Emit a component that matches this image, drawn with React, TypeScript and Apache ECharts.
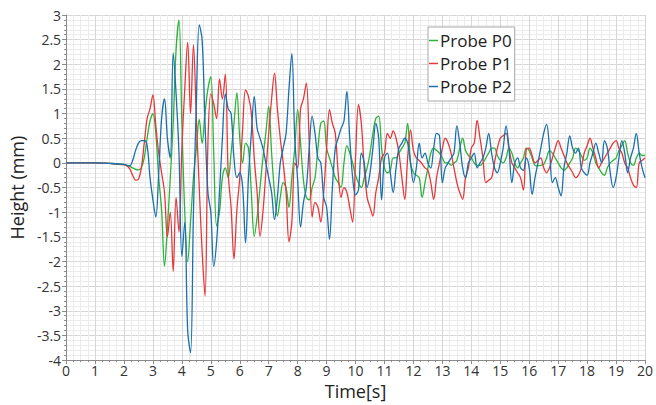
import React, { useEffect, useRef } from "react";
import * as echarts from "echarts";

// ---- data ----
const seriesNames = ["Probe P0", "Probe P1", "Probe P2"];
const seriesColors = ["#2eb23a", "#e5383b", "#1a6fae"];

const leadTimes = [0, 1, 1.5];
const leadP0 = [0, 0, -0.01];
const leadP1 = [0, 0, -0.01];
const leadP2 = [0, 0, -0.01];

const sampleStart = 2.0;
const sampleStep = 0.1;

const probeP0 = [
  -0.03, -0.05, -0.07, -0.1, -0.13, -0.14, -0.1, 0.1, 0.5, 0.85,
  1.0, 0.6, -0.3, -0.95, -2.1, -1.3, -0.3, 0.8, 2.3, 2.9,
  0.8, -1.0, -2.0, -1.2, -0.3, 0.3, 0.88, 0.4, 1.0, 1.5,
  1.75, 0.2, -1.28, -1.0, -0.3, -0.1, -0.3, 0.2, 0.8, 1.42,
  0.5, 0.0, 0.4, 0.3, -0.6, -1.49, -1.1, -0.5, 0.1, 0.6,
  1.15, 0.2, -0.6, -1.08, -0.7, -0.4, -0.5, -0.9, -0.3, 0.3,
  1.08, 0.4, -0.35, -0.7, -0.75, -0.5, -0.3, 0.3, 0.8, 0.85,
  0.3, 0.1, -0.1, -0.3, -0.4, -0.5, 0.0, 0.35, 0.2, 0.0,
  -0.25, -0.4, -0.5, -0.3, -0.1, 0.2, 0.6, 0.9, 0.95, 0.3,
  -0.1, -0.2, -0.15, 0.1, 0.1, 0.2, 0.3, 0.4, 0.8, 0.0,
  -0.2, -0.25, -0.3, -0.7, -0.4, -0.1, 0.2, 0.3, 0.25, 0.2,
  0.1, 0.0, 0.0, -0.05, 0.0, 0.05, 0.3, 0.5, 0.25, 0.15,
  0.1, 0.0, -0.05, -0.05, 0.0, 0.1, 0.2, 0.3, 0.3, 0.15,
  0.05, 0.0, 0.1, 0.3, 0.2, 0.0, -0.1, 0.0, 0.1, 0.3,
  0.25, 0.1, -0.05, -0.06, -0.05, -0.03, 0.1, 0.25, 0.2, 0.1,
  0.0, -0.1, -0.15, -0.1, 0.0, 0.1, 0.3, 0.25, 0.15, 0.05,
  0.1, 0.3, 0.2, 0.0, -0.1, -0.2, -0.25, -0.1, 0.0, 0.05,
  0.1, 0.25, 0.35, 0.45, 0.2, 0.0, -0.05, 0.1, 0.2, 0.15,
  0.15,
];

const probeP1 = [
  -0.04, -0.06, -0.12, -0.25, -0.35, -0.33, -0.1, 0.4, 0.9, 1.1,
  1.38, 0.75, 0.2, -0.2, -0.6, -1.5, -1.0, -2.2, -0.7, -1.4,
  0.3, 1.5, 2.45, 1.0, 2.4, 0.9, -0.5, -1.8, -2.7, 0.4,
  1.4, 1.2, 0.9, 1.7, 1.3, 1.8, -0.2, -0.9, -1.95, -0.95,
  -0.3, 0.7, 1.48, 1.35, 1.0, 0.1, -0.6, -1.49, -1.0, -0.2,
  0.6, 1.3, 1.82, 1.1, 0.5, 0.0, -0.6, -1.6, -1.2, 0.0,
  -0.1, 1.1, 1.3, 1.62, 0.4, -1.1, -0.8, -0.9, -1.2, -0.6,
  0.3, 1.08, 0.8, 0.6, -0.2, -0.7, -0.5, -0.6, -0.9, -1.2,
  0.1, 1.18, 0.8, -0.1, -0.7, -0.9, -1.08, -0.6, -0.3, 0.1,
  0.2, 0.6, 0.5, 0.65, 0.5, 0.2, -0.3, -0.74, 0.1, 0.67,
  0.25, 0.1, 0.05, -0.02, -0.1, -0.15, -0.4, -0.74, -0.3, 0.0,
  0.3, 0.5, 0.4, 0.2, -0.1, -0.4, -0.6, -0.74, -0.3, -0.1,
  0.3, 0.4, 0.86, 0.5, 0.1, -0.4, -0.35, -0.3, 0.0, 0.3,
  0.5, 0.55, 0.6, 0.3, 0.0, -0.1, -0.2, -0.3, -0.55, 0.28,
  0.3, 0.15, 0.0, 0.05, 0.1, -0.1, -0.2, -0.1, 0.1, 0.3,
  0.45, 0.3, 0.15, 0.0, -0.1, -0.2, -0.3, -0.25, -0.1, 0.2,
  0.35, 0.5, 0.3, 0.1, -0.1, 0.0, 0.1, 0.2, 0.3, 0.4,
  0.45, 0.3, 0.2, 0.0, -0.1, -0.3, -0.45, -0.5, 0.0, 0.05,
  0.1,
];

const probeP2 = [
  -0.03, -0.05, -0.06, 0.05, 0.25, 0.4, 0.45, 0.45, 0.35, -0.3,
  -0.75, -1.1, -0.2, 0.9, 1.3, 0.5, 0.1, 2.23, 1.4, 0.2,
  -1.9, -1.2, -3.4, -3.85, -1.0, 1.2, 2.8, 2.5, 0.8, -0.6,
  -1.0, -2.1, -1.6, -0.6, 0.5, 1.4, 1.1, 1.0, 0.1, -0.3,
  -0.2, -0.5, -1.62, -0.3, 0.6, 1.35, 0.7, 0.5, 0.3, 0.0,
  -0.3, -0.6, -1.15, -0.7, 0.0, 0.3, 0.6, 1.5, 2.22, 0.5,
  -0.35, -1.3, -0.8, -0.5, 0.3, 0.95, 0.6, 0.1, 0.0, -0.7,
  -0.9, -1.55, -0.5, 0.3, 0.5, 0.7, 0.85, 1.45, 0.5, -0.3,
  -0.65, -0.55, 0.2, 0.0, -0.5, -0.2, 0.3, 0.8, 0.5, -0.75,
  0.1, 0.2, -0.2, -0.6, -0.1, 0.3, 0.4, 0.5, 0.4, 0.0,
  -0.4, -0.1, 0.4, 0.1, 0.2, 0.0, -0.1, 0.3, 0.6, 0.55,
  -0.4, -0.1, 0.0, 0.1, 0.2, 0.75, 0.4, -0.1, -0.3, 0.0,
  0.1, 0.2, -0.1, 0.0, 0.1, 0.3, 0.6, 0.2, -0.1, -0.2,
  0.0, 0.3, 0.75, 0.3, -0.4, 0.0, 0.1, -0.1, -0.15, 0.1,
  -0.1, -0.64, -0.3, 0.0, 0.3, 0.6, 0.78, 0.3, -0.4, -0.3,
  -0.5, -0.67, -0.1, 0.2, 0.55, 0.3, 0.2, 0.3, -0.1, -0.2,
  -0.25, 0.0, 0.2, 0.4, 0.2, 0.0, 0.45, 0.3, -0.2, -0.5,
  -0.3, 0.1, 0.45, 0.2, -0.2, 0.1, 0.3, 0.6, 0.2, -0.1,
  -0.3,
];

const xTickMin = 0;
const xTickMax = 20;
const yTickMin = -4;
const yTickMax = 3;

function buildPairs(lead: number[], vals: number[]): [number, number][] {
  const out: [number, number][] = leadTimes.map((t, i) => [t, lead[i]]);
  vals.forEach((v, i) => {
    out.push([+(sampleStart + i * sampleStep).toFixed(2), v]);
  });
  return out;
}

const FONT = "'Open Sans', 'Noto Sans', sans-serif";

export default function App() {
  const ref = useRef<HTMLDivElement>(null);

  useEffect(() => {
    document.body.style.margin = "0";
    if (!ref.current) return;
    const chart = echarts.init(ref.current, undefined, { renderer: "svg" });
    const allData = [
      buildPairs(leadP0, probeP0),
      buildPairs(leadP1, probeP1),
      buildPairs(leadP2, probeP2),
    ];
    chart.setOption({
      animation: false,
      backgroundColor: "#ffffff",
      textStyle: { fontFamily: FONT },
      grid: { left: 62, right: 5, top: 15, bottom: 44, containLabel: false },
      legend: {
        show: true,
        orient: "vertical",
        left: 428,
        top: 27,
        data: seriesNames,
        icon: "rect",
        itemWidth: 9,
        itemHeight: 1.5,
        itemGap: 4,
        padding: [4, 3, 5, 1],
        backgroundColor: "#ffffff",
        borderColor: "#a8a8a8",
        borderWidth: 1,
        borderRadius: 0,
        textStyle: {
          fontFamily: FONT,
          fontSize: 17,
          lineHeight: 19,
          color: "#222",
          padding: [0, 0, 0, -3],
        },
      },
      xAxis: {
        type: "value",
        min: xTickMin,
        max: xTickMax,
        interval: 1,
        name: "Time[s]",
        nameLocation: "middle",
        nameGap: 20,
        nameTextStyle: { fontFamily: FONT, fontSize: 18, color: "#222" },
        axisLine: { show: true, onZero: false, lineStyle: { color: "#8a8a8a", width: 1 } },
        axisTick: { show: true, inside: false, length: 4, lineStyle: { color: "#8a8a8a" } },
        minorTick: { show: true, splitNumber: 4, length: 2, lineStyle: { color: "#8a8a8a" } },
        axisLabel: { fontFamily: FONT, fontSize: 14, color: "#333", margin: 3 },
        splitLine: { show: true, lineStyle: { color: "#d6d6d6", width: 1 } },
        minorSplitLine: { show: true, lineStyle: { color: "#ebebeb", width: 1 } },
      },
      yAxis: {
        type: "value",
        min: yTickMin,
        max: yTickMax,
        interval: 0.5,
        name: "Height (mm)",
        nameLocation: "middle",
        nameGap: 35,
        nameTextStyle: { fontFamily: FONT, fontSize: 18, color: "#222" },
        axisLine: { show: true, onZero: false, lineStyle: { color: "#8a8a8a", width: 1 } },
        axisTick: { show: true, inside: false, length: 4, lineStyle: { color: "#8a8a8a" } },
        minorTick: { show: true, splitNumber: 5, length: 2, lineStyle: { color: "#8a8a8a" } },
        axisLabel: { fontFamily: FONT, fontSize: 14, color: "#333", margin: 5 },
        splitLine: { show: true, lineStyle: { color: "#d6d6d6", width: 1 } },
        minorSplitLine: { show: true, lineStyle: { color: "#ebebeb", width: 1 } },
      },
      series: seriesNames.map((name, i) => ({
        name,
        type: "line",
        data: allData[i],
        showSymbol: false,
        symbol: "none",
        smooth: 0.35,
        clip: true,
        color: seriesColors[i],
        lineStyle: { color: seriesColors[i], width: 1.3 },
      })),
    });
    return () => chart.dispose();
  }, []);

  return <div ref={ref} style={{ width: 656, height: 405 }} />;
}
